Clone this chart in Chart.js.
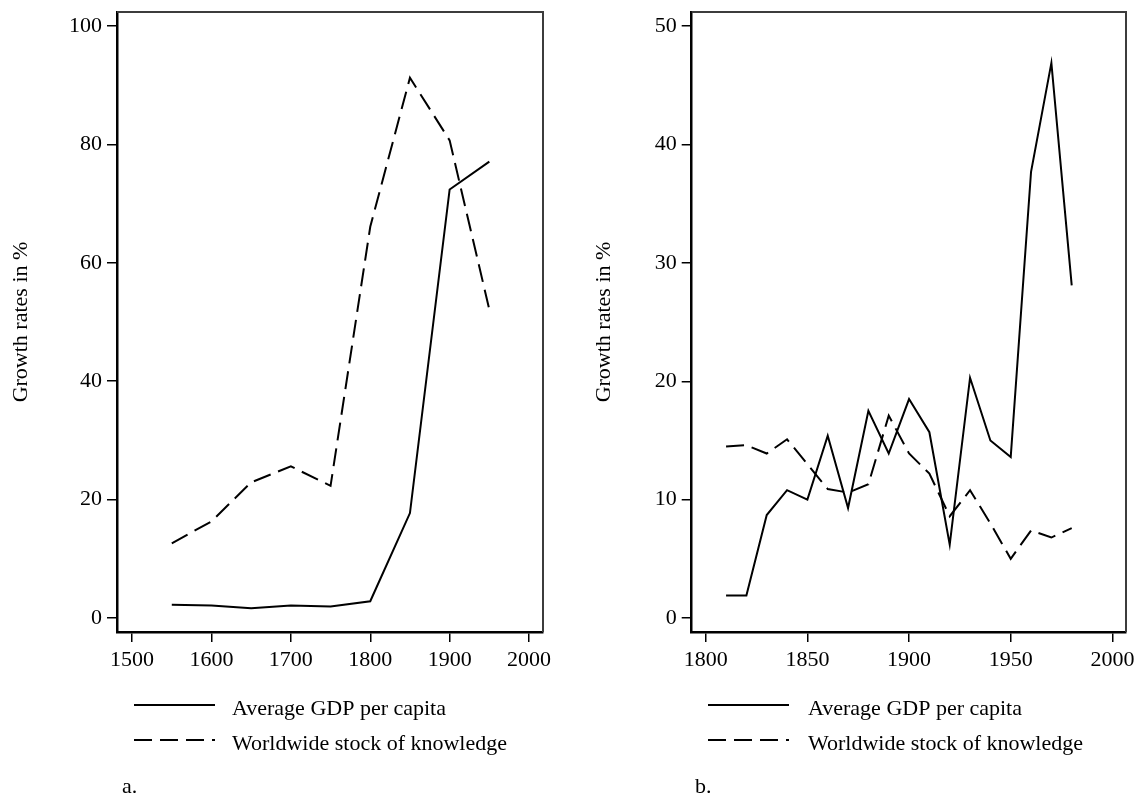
<!DOCTYPE html>
<html>
<head>
<meta charset="utf-8">
<title>Growth rates: GDP per capita and stock of knowledge</title>
<script src="https://cdn.jsdelivr.net/npm/chart.js@4/dist/chart.umd.min.js"></script>
<style>
  html, body { margin: 0; padding: 0; background: #fff; }
  #wrap { position: relative; width: 1141px; height: 798px; overflow: hidden; }
  canvas { position: absolute; top: 0; }
  #panelA { left: 0; }
  #panelB { left: 570px; }
</style>
</head>
<body>
<div id="wrap">
  <canvas id="panelA" width="570" height="798"></canvas>
  <canvas id="panelB" width="571" height="798"></canvas>
</div>
<script>
// Panel a: 1550-1950, 50-year steps
const yearsA = [1550, 1600, 1650, 1700, 1750, 1800, 1850, 1900, 1950];
const gdpA = [2.2, 2.1, 1.6, 2.1, 1.9, 2.8, 17.7, 72.4, 77.1];
const knowledgeA = [12.6, 16.3, 22.9, 25.6, 22.3, 66.1, 91.3, 80.7, 52.1];
const xTicksA = [1500, 1600, 1700, 1800, 1900, 2000];
const yTicksA = [0, 20, 40, 60, 80, 100];

// Panel b: 1810-1980, 10-year steps
const yearsB = [1810, 1820, 1830, 1840, 1850, 1860, 1870, 1880, 1890,
                1900, 1910, 1920, 1930, 1940, 1950, 1960, 1970, 1980];
const gdpB = [1.9, 1.9, 8.7, 10.8, 10.0, 15.4, 9.3, 17.5, 13.9,
              18.5, 15.7, 6.2, 20.3, 15.0, 13.6, 37.7, 46.9, 28.1];
const knowledgeB = [14.5, 14.6, 13.9, 15.1, 13.0, 10.9, 10.6, 11.3, 17.1,
                    13.9, 12.2, 8.6, 10.8, 8.0, 5.0, 7.4, 6.8, 7.6];
const xTicksB = [1800, 1850, 1900, 1950, 2000];
const yTicksB = [0, 10, 20, 30, 40, 50];

const seriesLabels = ['Average GDP per capita', 'Worldwide stock of knowledge'];
const yTitle = 'Growth rates in %';

const FONT = 'Liberation Serif, Times New Roman, serif';
const DASH = [18, 8];

const toPoints = (xs, ys) => xs.map((x, i) => ({ x: x, y: ys[i] }));

// Thin grey top and right frame lines, plus the legend and panel tag underneath
const framePlugin = {
  id: 'panelFrame',
  afterDraw(chart, args, opts) {
    const { ctx, chartArea: a } = chart;
    ctx.save();
    ctx.strokeStyle = '#3c3c3c';
    ctx.lineWidth = 2;
    ctx.setLineDash([]);
    ctx.beginPath();
    ctx.moveTo(a.left, a.top);
    ctx.lineTo(a.right, a.top);
    ctx.lineTo(a.right, a.bottom);
    ctx.stroke();

    // legend rows
    ctx.font = '22px ' + FONT;
    ctx.fillStyle = '#000';
    ctx.textAlign = 'left';
    ctx.textBaseline = 'alphabetic';
    chart.data.datasets.forEach((ds, i) => {
      const ly = opts.rowY[i];
      ctx.beginPath();
      ctx.strokeStyle = '#000';
      ctx.lineWidth = 2;
      ctx.setLineDash(ds.borderDash || []);
      ctx.moveTo(opts.lineX, ly);
      ctx.lineTo(opts.lineX + opts.lineLength, ly);
      ctx.stroke();
      ctx.setLineDash([]);
      ctx.fillText(ds.label, opts.textX, ly + 10);
    });
    ctx.fillText(opts.tag, opts.tagX, opts.tagY);
    ctx.restore();
  }
};

function makeChart(id, cfg) {
  return new Chart(document.getElementById(id), {
    type: 'line',
    data: {
      datasets: [
        {
          label: seriesLabels[0],
          data: toPoints(cfg.years, cfg.gdp),
          borderColor: '#000',
          borderWidth: 2,
          pointRadius: 0,
          tension: 0,
          fill: false
        },
        {
          label: seriesLabels[1],
          data: toPoints(cfg.years, cfg.knowledge),
          borderColor: '#000',
          borderWidth: 2,
          borderDash: DASH,
          pointRadius: 0,
          tension: 0,
          fill: false
        }
      ]
    },
    options: {
      responsive: false,
      animation: false,
      devicePixelRatio: 1,
      layout: { padding: { top: 12, left: cfg.padLeft, right: cfg.padRight, bottom: 126 } },
      plugins: {
        legend: { display: false },
        tooltip: { enabled: false },
        panelFrame: cfg.legend
      },
      scales: {
        x: {
          type: 'linear',
          min: cfg.xMin,
          max: cfg.xMax,
          afterBuildTicks(scale) { scale.ticks = cfg.xTicks.map(v => ({ value: v })); },
          afterFit(scale) {
            scale.height = 40;
            scale.paddingLeft = 0;
            scale.paddingRight = 0;
          },
          grid: {
            drawOnChartArea: false,
            drawTicks: true,
            tickLength: 10,
            color: '#000',
            lineWidth: 1.5
          },
          border: { display: true, color: '#000', width: 2.5 },
          ticks: {
            color: '#000',
            padding: 5,
            maxRotation: 0,
            autoSkip: false,
            font: { family: FONT, size: 22 },
            callback: v => String(v)
          }
        },
        y: {
          type: 'linear',
          min: cfg.yMin,
          max: cfg.yMax,
          afterBuildTicks(scale) { scale.ticks = cfg.yTicks.map(v => ({ value: v })); },
          afterFit(scale) {
            scale.width = cfg.yWidth;
            scale.paddingTop = 0;
            scale.paddingBottom = 0;
          },
          grid: {
            drawOnChartArea: false,
            drawTicks: true,
            tickLength: 10,
            color: '#000',
            lineWidth: 1.5
          },
          border: { display: true, color: '#000', width: 2.5 },
          ticks: {
            color: '#000',
            padding: 5,
            autoSkip: false,
            font: { family: FONT, size: 22 },
            callback: v => String(v)
          },
          title: {
            display: true,
            text: yTitle,
            color: '#000',
            font: { family: FONT, size: 22, lineHeight: 1.2 },
            padding: { top: cfg.titlePad, bottom: 0 }
          }
        }
      }
    },
    plugins: [framePlugin]
  });
}

makeChart('panelA', {
  years: yearsA, gdp: gdpA, knowledge: knowledgeA,
  xTicks: xTicksA, yTicks: yTicksA,
  xMin: 1481, xMax: 2017.6, yMin: -2.4, yMax: 102.4,
  padLeft: 0, padRight: 27, yWidth: 117, titlePad: 8,
  legend: { lineX: 134, lineLength: 81, textX: 232, rowY: [705, 740], tag: 'a.', tagX: 122, tagY: 793 }
});

makeChart('panelB', {
  years: yearsB, gdp: gdpB, knowledge: knowledgeB,
  xTicks: xTicksB, yTicks: yTicksB,
  xMin: 1793.1, xMax: 2006.7, yMin: -1.18, yMax: 51.2,
  padLeft: 0, padRight: 15, yWidth: 121.7, titlePad: 21,
  legend: { lineX: 138, lineLength: 81, textX: 238, rowY: [705, 740], tag: 'b.', tagX: 125, tagY: 793 }
});
</script>
</body>
</html>
